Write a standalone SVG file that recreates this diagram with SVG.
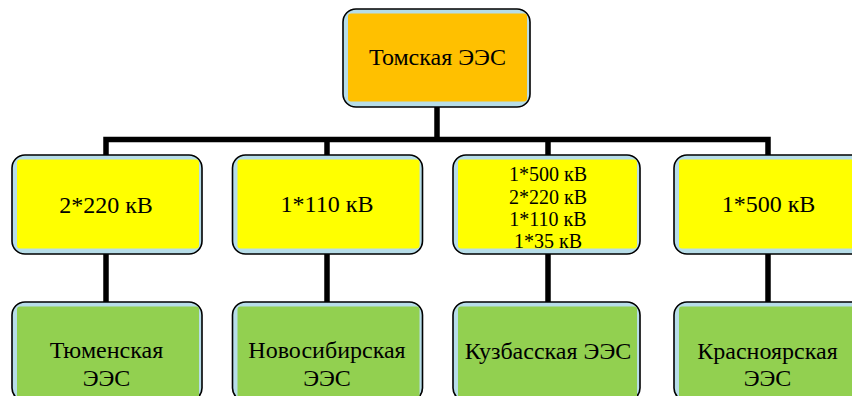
<svg xmlns="http://www.w3.org/2000/svg" width="852" height="396" viewBox="0 0 852 396">
<defs>
<style>
.rim{fill:#b7dde8;stroke:#000;stroke-width:1.6}
.or{fill:#ffc000}
.ye{fill:#ffff00}
.gr{fill:#92d050}
.t{font-family:"Liberation Serif","Times New Roman",serif;fill:#000;text-anchor:middle}
.big{font-size:24px}
.sm{font-size:20px}
.ln{fill:none;stroke:#000;stroke-width:5.5;stroke-linejoin:miter}
</style>
</defs>
<rect width="852" height="396" fill="#fff"/>
<g id="connectors">
<path class="ln" d="M437 107 V139.5"/>
<path class="ln" d="M106 155 V139.5 H768 V155"/>
<path class="ln" d="M327 139.5 V155"/>
<path class="ln" d="M548 139.5 V155"/>
<path class="ln" d="M106 254 V302"/>
<path class="ln" d="M327 254 V302"/>
<path class="ln" d="M548 254 V302"/>
<path class="ln" d="M768 254 V302"/>
</g>
<g id="tomsk">
<rect class="rim" x="343" y="9" width="187" height="98" rx="13"/>
<rect class="or" x="348" y="13.5" width="179" height="88" rx="3"/>
<text class="t big" x="437.5" y="65">Томская ЭЭС</text>
</g>
<g id="link1">
<rect class="rim" x="12" y="155" width="190" height="99" rx="13"/>
<rect class="ye" x="17" y="159.5" width="182" height="89" rx="3"/>
<text class="t big" x="106" y="212.5">2*220 кВ</text>
</g>
<g id="link2">
<rect class="rim" x="232.5" y="155" width="190" height="99" rx="13"/>
<rect class="ye" x="237.5" y="159.5" width="182" height="89" rx="3"/>
<text class="t big" x="327" y="211.5">1*110 кВ</text>
</g>
<g id="link3">
<rect class="rim" x="453" y="155" width="187" height="99" rx="13"/>
<rect class="ye" x="458" y="159.5" width="179" height="89" rx="3"/>
<text class="t sm" x="548" y="180.5">1*500 кВ</text>
<text class="t sm" x="548" y="203.5">2*220 кВ</text>
<text class="t sm" x="548" y="226">1*110 кВ</text>
<text class="t sm" x="548" y="247.5">1*35 кВ</text>
</g>
<g id="link4">
<rect class="rim" x="674" y="155" width="190" height="99" rx="13"/>
<rect class="ye" x="679" y="159.5" width="182" height="89" rx="3"/>
<text class="t big" x="768.5" y="211.5">1*500 кВ</text>
</g>
<g id="tyumen">
<rect class="rim" x="12" y="302" width="190" height="99" rx="13"/>
<rect class="gr" x="17" y="306.5" width="182" height="94" rx="3"/>
<text class="t big" x="106.5" y="357.5">Тюменская</text>
<text class="t big" x="106.5" y="385.5">ЭЭС</text>
</g>
<g id="novosibirsk">
<rect class="rim" x="232.5" y="302" width="190" height="99" rx="13"/>
<rect class="gr" x="237.5" y="306.5" width="182" height="94" rx="3"/>
<text class="t big" x="327" y="357.5">Новосибирская</text>
<text class="t big" x="327" y="385.5">ЭЭС</text>
</g>
<g id="kuzbass">
<rect class="rim" x="453" y="302" width="187" height="99" rx="13"/>
<rect class="gr" x="458" y="306.5" width="179" height="94" rx="3"/>
<text class="t big" x="548" y="359">Кузбасская ЭЭС</text>
</g>
<g id="krasnoyarsk">
<rect class="rim" x="674" y="302" width="190" height="99" rx="13"/>
<rect class="gr" x="679" y="306.5" width="182" height="94" rx="3"/>
<text class="t big" x="767.5" y="359">Красноярская</text>
<text class="t big" x="767.5" y="386">ЭЭС</text>
</g>
</svg>
